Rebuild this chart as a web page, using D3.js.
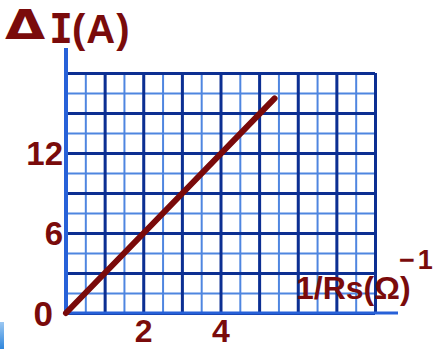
<!DOCTYPE html>
<html>
<head>
<meta charset="utf-8">
<script src="https://cdn.jsdelivr.net/npm/d3@7/dist/d3.min.js"></script>
<style>
  html, body { margin: 0; padding: 0; background: #fff; }
  svg { display: block; }
  text { font-family: "Liberation Sans", Arial, sans-serif; font-weight: bold; fill: #7a0b0b; }
</style>
</head>
<body>
<svg id="chart" width="435" height="349"></svg>
<script>
// ΔI against 1/Rs — straight line through the origin
const xTickValues = [2, 4];
const xTickLabels = ["2", "4"];
const yTickValues = [6, 12];
const yTickLabels = ["6", "12"];
const originLabel = "0";
const lineX = [0, 5.4];
const lineY = [0, 16.1];
const xDomain = [0, 8];
const yDomain = [0, 18];
const xMajorStep = 1, xMinorStep = 0.5;
const yMajorStep = 3, yMinorStep = 1.5;

const svg = d3.select("#chart");
const plotLeft = 66, plotRight = 375, plotTop = 73, plotBottom = 313;
const x = d3.scaleLinear().domain(xDomain).range([plotLeft, plotRight]);
const y = d3.scaleLinear().domain(yDomain).range([plotBottom, plotTop]);

const minorX = d3.range(xDomain[0], xDomain[1] + 1e-9, xMinorStep);
const majorX = d3.range(xDomain[0], xDomain[1] + 1e-9, xMajorStep);
const minorY = d3.range(yDomain[0], yDomain[1] + 1e-9, yMinorStep);
const majorY = d3.range(yDomain[0], yDomain[1] + 1e-9, yMajorStep);

// graph-paper grid built from axis ticks
function grid(axis, cls, color, width) {
  const g = svg.append("g").attr("class", cls);
  g.call(axis);
  g.select(".domain").remove();
  g.selectAll(".tick line").attr("stroke", color).attr("stroke-width", width);
  g.selectAll(".tick text").remove();
  return g;
}
const gridH = plotBottom - plotTop, gridW = plotRight - plotLeft;
grid(d3.axisBottom(x).tickValues(minorX).tickSize(-gridH).tickFormat(""), "minor-x", "#4f86e0", 2)
  .attr("transform", `translate(0,${plotBottom})`);
grid(d3.axisLeft(y).tickValues(minorY).tickSize(-gridW).tickFormat(""), "minor-y", "#4f86e0", 2)
  .attr("transform", `translate(${plotLeft},0)`);
grid(d3.axisBottom(x).tickValues(majorX).tickSize(-gridH).tickFormat(""), "major-x", "#0c2f92", 3)
  .attr("transform", `translate(0,${plotBottom})`);
grid(d3.axisLeft(y).tickValues(majorY).tickSize(-gridW).tickFormat(""), "major-y", "#0c2f92", 3)
  .attr("transform", `translate(${plotLeft},0)`);

// main axes, extended past the grid
svg.append("line").attr("x1", x(0)).attr("x2", x(0)).attr("y1", 48).attr("y2", plotBottom + 1)
  .attr("stroke", "#2761d8").attr("stroke-width", 4);
svg.append("line").attr("x1", x(0)).attr("x2", 398).attr("y1", plotBottom).attr("y2", plotBottom)
  .attr("stroke", "#2761d8").attr("stroke-width", 3);

// data line
const pts = lineX.map((v, i) => [v, lineY[i]]);
svg.append("path")
  .attr("d", d3.line().x(d => x(d[0])).y(d => y(d[1]))(pts))
  .attr("stroke", "#7a0a0a").attr("stroke-width", 6).attr("stroke-linecap", "round").attr("fill", "none");

// tick labels
const yAx = svg.append("g").attr("transform", `translate(${plotLeft - 3},0)`)
  .call(d3.axisLeft(y).tickValues(yTickValues).tickSize(0).tickFormat((d, i) => yTickLabels[i]));
yAx.select(".domain").remove();
yAx.selectAll("text").attr("font-size", 33).attr("dy", "0.36em").attr("x", 0);

const xAx = svg.append("g").attr("transform", `translate(0,${plotBottom})`)
  .call(d3.axisBottom(x).tickValues(xTickValues).tickSize(0).tickFormat((d, i) => xTickLabels[i]));
xAx.select(".domain").remove();
xAx.selectAll("text").attr("font-size", 32).attr("dy", 0).attr("y", 29);

svg.append("text").attr("x", 53).attr("y", plotBottom + 13).attr("text-anchor", "end")
  .attr("font-size", 35).text(originLabel);

// axis titles
svg.append("text").attr("transform", "translate(5,39) scale(1.3,1)")
  .style("font-family", "'DejaVu Sans'").attr("font-size", 40).text("Δ");
svg.append("text").attr("x", 49).attr("y", 43)
  .style("font-family", "'DejaVu Sans Mono'").attr("font-size", 40).text("I");
svg.append("text").attr("x", 72).attr("y", 43).attr("font-size", 40).attr("letter-spacing", 1).text("(A)");
svg.append("text").attr("x", 296).attr("y", 299).attr("font-size", 32).text("1/Rs(Ω)");
svg.append("text").attr("x", 399).attr("y", 269).attr("font-size", 27).attr("letter-spacing", 3).text("−1");

// small blue edge mark at the lower left
const grad = svg.append("defs").append("linearGradient").attr("id", "edge")
  .attr("x1", 0).attr("x2", 0).attr("y1", 0).attr("y2", 1);
grad.append("stop").attr("offset", 0).attr("stop-color", "#9cc8f2");
grad.append("stop").attr("offset", 1).attr("stop-color", "#2f86dc");
svg.append("rect").attr("x", 0).attr("y", 322).attr("width", 4).attr("height", 27).attr("fill", "url(#edge)");
</script>
</body>
</html>
